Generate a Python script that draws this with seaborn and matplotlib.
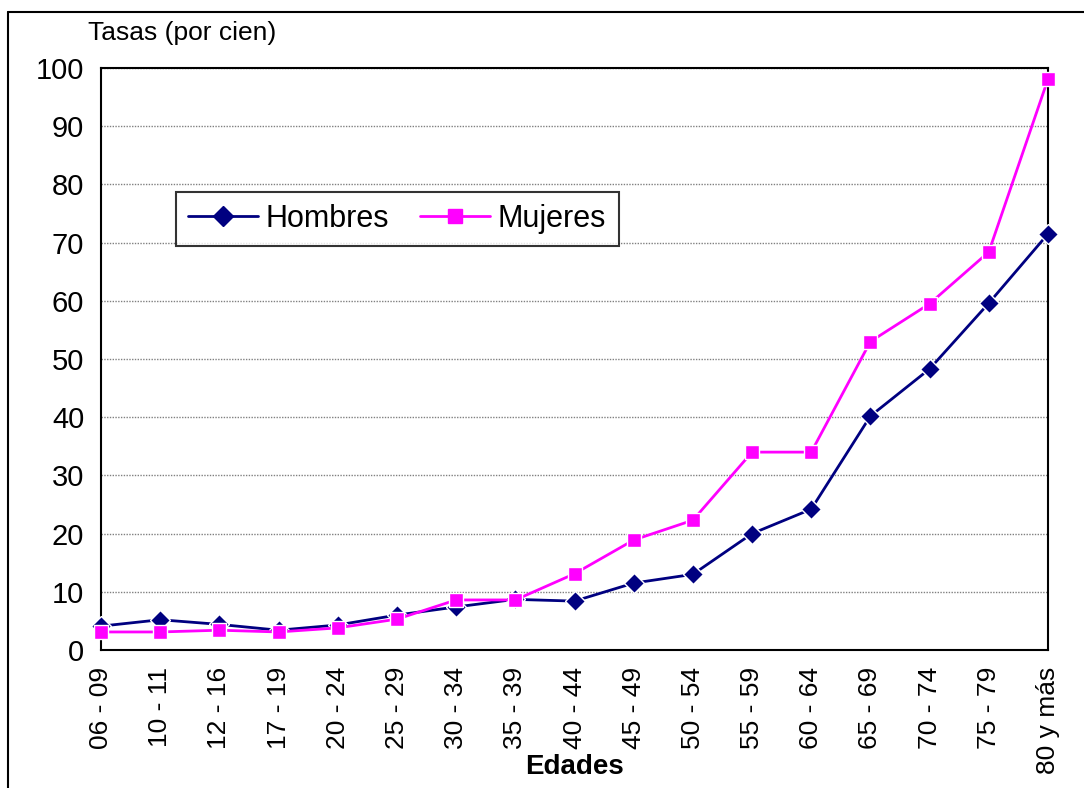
import pandas as pd
import numpy as np
import matplotlib
matplotlib.use("Agg")
import matplotlib.pyplot as plt
from matplotlib.lines import Line2D
import seaborn as sns

sns.set_style("white")
plt.rcParams['font.family'] = ['Liberation Sans', 'DejaVu Sans']
plt.rcParams['text.color'] = 'black'
plt.rcParams['xtick.color'] = 'black'
plt.rcParams['ytick.color'] = 'black'
plt.rcParams['axes.labelcolor'] = 'black'

# data
edades = ['06 - 09', '10 - 11', '12 - 16', '17 - 19', '20 - 24', '25 - 29',
          '30 - 34', '35 - 39', '40 - 44', '45 - 49', '50 - 54', '55 - 59',
          '60 - 64', '65 - 69', '70 - 74', '75 - 79', '80 y más']
hombres = [4.1, 5.2, 4.4, 3.4, 4.3, 6.0, 7.4, 8.7, 8.4, 11.5, 13.0, 20.0,
           24.2, 40.2, 48.3, 59.6, 71.5]
mujeres = [3.1, 3.1, 3.4, 3.1, 3.8, 5.3, 8.6, 8.6, 13.1, 18.9, 22.3, 34.0,
           34.0, 53.0, 59.5, 68.4, 98.1]
yticks = list(range(0, 101, 10))

df = pd.concat([
    pd.DataFrame({'Edades': edades, 'Tasa': hombres, 'Sexo': 'Hombres'}),
    pd.DataFrame({'Edades': edades, 'Tasa': mujeres, 'Sexo': 'Mujeres'}),
], ignore_index=True)
df['pos'] = df['Edades'].map({e: i for i, e in enumerate(edades)})

fig = plt.figure(figsize=(10.84, 7.88), dpi=100)
ax = fig.add_axes([101 / 1084, 1 - 650 / 788, 947 / 1084, 582 / 788])

palette = {'Hombres': '#000080', 'Mujeres': '#FF00FF'}
sns.lineplot(data=df, x='pos', y='Tasa', hue='Sexo', style='Sexo',
             markers={'Hombres': 'D', 'Mujeres': 's'}, dashes=False,
             palette=palette, sort=False, linewidth=2, markersize=10,
             markeredgewidth=1, ax=ax, legend=False, clip_on=False, zorder=5)

ax.set_xlim(0, len(edades) - 1)
ax.set_ylim(0, 100)
ax.set_yticks(yticks)
ax.set_xticks(range(len(edades)))
ax.set_xticklabels(edades, rotation=90, fontsize=19)
ax.tick_params(axis='y', labelsize=21, direction='out', length=8, width=1.5, pad=4)
ax.tick_params(axis='x', direction='out', length=8, width=1.5, pad=4)
ax.yaxis.grid(True, color='#808080', linestyle=(0, (1, 1)), linewidth=1)
ax.set_axisbelow(True)
for s in ax.spines.values():
    s.set_visible(True)
    s.set_color('black')
    s.set_linewidth(1.5)
ax.set_xlabel('Edades', fontsize=20, fontweight='bold', va='center')
ax.xaxis.set_label_coords(0.5, (650 - 767) / 582)
ax.set_ylabel('')

handles = [
    Line2D([], [], color='#000080', marker='D', markersize=10, linewidth=2),
    Line2D([], [], color='#FF00FF', marker='s', markersize=10, linewidth=2),
]
leg = ax.legend(handles, ['Hombres', 'Mujeres'], loc='upper left',
                bbox_to_anchor=(0.079, 0.787), ncol=2, fontsize=22,
                frameon=True, fancybox=False, edgecolor='black',
                handlelength=2.3, columnspacing=1.0, handletextpad=0.25,
                borderpad=0.4, borderaxespad=0)
leg.get_frame().set_linewidth(1.5)

fig.text(88 / 1084, 1 - 33 / 788, 'Tasas (por cien)', fontsize=19,
         ha='left', va='center')

# outer frame (only left and top visible in the reference)
fig.add_artist(Line2D([8 / 1084, 8 / 1084], [0, 1 - 12 / 788],
                      transform=fig.transFigure, color='black', linewidth=1.5))
fig.add_artist(Line2D([8 / 1084, 1], [1 - 12 / 788, 1 - 12 / 788],
                      transform=fig.transFigure, color='black', linewidth=1.5))

fig.savefig('out.png', dpi=100)
